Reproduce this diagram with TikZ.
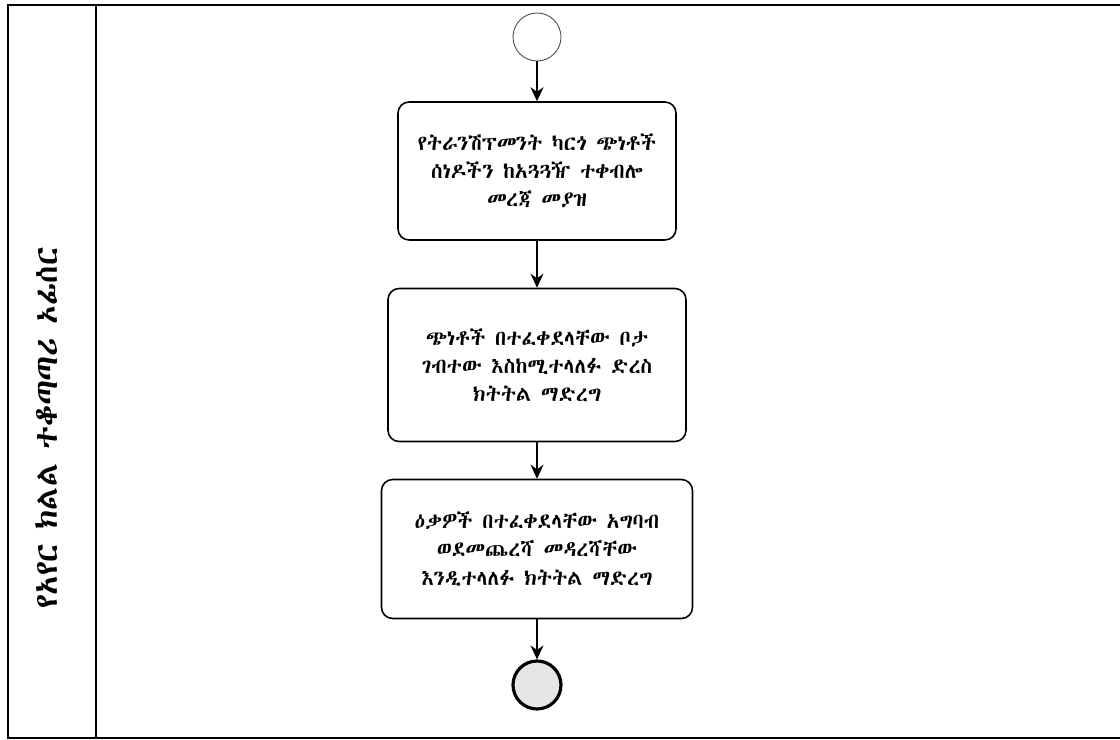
\documentclass[tikz,border=0pt]{standalone}
\usepackage{fontspec}
\usetikzlibrary{positioning,arrows.meta}
\newfontfamily\ethfont{AbyssinicaSIL-Regular.ttf}
\begin{document}
\begin{tikzpicture}[x=0.02cm,y=-0.02cm,
  act/.style={draw,rounded corners=0.22cm,align=center,line width=0.9pt,
    font=\ethfont\fontsize{12}{16}\selectfont},
  flow/.style={-{Stealth[length=0.28cm,width=0.26cm]},line width=0.7pt}]
 \useasboundingbox (0,0) rectangle (1120,740);
 \draw[line width=0.8pt] (1120,5) -- (8,5) -- (8,738) -- (1120,738);
 \draw[line width=0.8pt] (96,5) -- (96,738);
 \node[rotate=90,font=\ethfont\fontsize{18}{20}\selectfont] (lane) at (47,428) {የአየር ክልል ተቆጣጣሪ ኦፊሰር};
 % flow
 \node[circle,draw=black!70,line width=0.5pt,minimum size=0.96cm] (start) at (537,37) {};
 \node[act,minimum width=5.56cm,minimum height=2.76cm] (recv) at (537,171)
   {የትራንሽፕመንት ካርጎ ጭነቶች\\ሰነዶችን ከአጓጓዥ ተቀብሎ\\መረጃ መያዝ};
 \node[act,minimum width=5.96cm,minimum height=3.06cm] (track) at (537,365)
   {ጭነቶች በተፈቀደላቸው ቦታ\\ገብተው እስከሚተላለፉ ድረስ\\ክትትል ማድረግ};
 \node[act,minimum width=6.22cm,minimum height=2.78cm] (pass) at (537,549)
   {ዕቃዎች በተፈቀደላቸው አግባብ\\ወደመጨረሻ መዳረሻቸው\\እንዲተላለፉ ክትትል ማድረግ};
 \node[circle,draw,line width=1.8pt,fill=black!10,minimum size=0.96cm] (stop) at (537,685) {};
 \draw[flow] (start) -- (recv);
 \draw[flow] (recv) -- (track);
 \draw[flow] (track) -- (pass);
 \draw[flow] (pass) -- (stop);
\end{tikzpicture}
\end{document}
